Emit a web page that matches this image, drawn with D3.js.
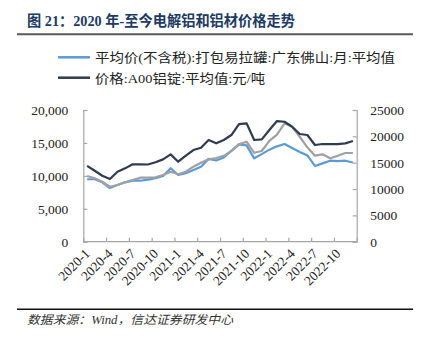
<!DOCTYPE html>
<html><head><meta charset="utf-8">
<script src="https://cdn.jsdelivr.net/npm/d3@7"></script>
<style>
html,body{margin:0;padding:0;background:#fff;}
svg{display:block;}
</style></head>
<body>
<svg id="c" width="423" height="339"></svg>
<script>
const months = ["2020-1","2020-2","2020-3","2020-4","2020-5","2020-6","2020-7","2020-8","2020-9","2020-10","2020-11","2020-12",
"2021-1","2021-2","2021-3","2021-4","2021-5","2021-6","2021-7","2021-8","2021-9","2021-10","2021-11","2021-12",
"2022-1","2022-2","2022-3","2022-4","2022-5","2022-6","2022-7","2022-8","2022-9","2022-10","2022-11","2022-12"];
const tickLabels = ["2020-1","2020-4","2020-7","2020-10","2021-1","2021-4","2021-7","2021-10","2022-1","2022-4","2022-7","2022-10"];
// left axis: 平均价(不含税):打包易拉罐:广东佛山
const canPrice = [9480,9480,9020,8150,8610,9020,9260,9260,9420,9630,9980,11150,
10130,10390,10890,11390,12580,12330,12800,13800,14790,14630,12660,13300,
13980,14480,14840,14230,13620,13110,11500,11900,12300,12250,12300,12030];
// left axis: unlabeled grey series
const greySeries = [9980,9630,9110,8350,8610,9020,9370,9720,9720,9780,10130,10630,
10240,10630,11390,12000,12510,12710,13040,13800,14790,15190,13500,13770,
15300,16250,17980,17460,15940,14340,13060,13270,12660,13060,13470,13470];
// right axis: 价格:A00铝锭:平均值
const a00Price = [14400,13470,12520,11900,13280,13920,14690,14690,14650,15070,15630,16580,
15180,16320,17400,17840,19300,18670,19300,20250,22330,22470,19300,19430,
21200,22900,22770,21820,20440,20250,18350,18540,18540,18540,18670,19110];
const leftTicks = [0,5000,10000,15000,20000];
const rightTicks = [0,5000,10000,15000,20000,25000];
const legendLabels = ["平均价(不含税):打包易拉罐:广东佛山:月:平均值","价格:A00铝锭:平均值:元/吨"];
const titleText = "图 21：2020 年-至今电解铝和铝材价格走势";
const sourceText = "数据来源：Wind，信达证券研发中心";

const svg = d3.select("#c");
const L = 83.3, R = 356.7, T = 110, B = 241.7;
const FONT = "'Liberation Serif','Noto Sans CJK SC',serif";
const blue = "#5b9bd5", dark = "#2f3b50", grey = "#a0a0a0", axisCol = "#a6a6a6";

svg.append("rect").attr("width",423).attr("height",339).attr("fill","#fff");

// title
svg.append("text").attr("x",27).attr("y",26).attr("fill","#203a64")
  .attr("font-family",FONT).attr("font-size",14.5).attr("font-weight","bold")
  .attr("textLength",268).attr("lengthAdjust","spacingAndGlyphs").text(titleText);
svg.append("line").attr("x1",17).attr("x2",413).attr("y1",34.3).attr("y2",34.3)
  .attr("stroke","#595959").attr("stroke-width",2);

// legend
const legColors = [blue, dark];
const legY = [57.3, 77.7];
const legW = [300, 170];
legendLabels.forEach((t,i)=>{
  svg.append("line").attr("x1",58).attr("x2",90).attr("y1",legY[i]).attr("y2",legY[i])
    .attr("stroke",legColors[i]).attr("stroke-width",2.5);
  svg.append("text").attr("x",95).attr("y",legY[i]+4.8).attr("fill","#222")
    .attr("font-family",FONT).attr("font-size",13)
    .attr("textLength",legW[i]).attr("lengthAdjust","spacingAndGlyphs").text(t);
});

// scales
const x = d3.scaleBand().domain(months).range([L,R]).padding(0);
const xIdx = d3.scaleLinear().domain([0,months.length]).range([L,R]);
const yL = d3.scaleLinear().domain([0,20000]).range([B,T]);
const yR = d3.scaleLinear().domain([0,25000]).range([B,T]);
const cx = m => x(m) + x.bandwidth()/2;

// axes
const gL = svg.append("g").attr("transform",`translate(${L},0)`)
  .call(d3.axisLeft(yL).tickValues(leftTicks).tickSize(-4).tickPadding(15).tickFormat(d3.format(",")));
const gR = svg.append("g").attr("transform",`translate(${R},0)`)
  .call(d3.axisRight(yR).tickValues(rightTicks).tickSize(-4).tickPadding(13.5).tickFormat(d3.format("d")));
const gB = svg.append("g").attr("transform",`translate(0,${B})`)
  .call(d3.axisBottom(xIdx).tickValues(d3.range(0,months.length+1,3)).tickSize(-4).tickFormat(""));
[gL,gR,gB].forEach(g=>{
  g.select(".domain").attr("stroke",axisCol).attr("stroke-width",1.2);
  g.selectAll(".tick line").attr("stroke",axisCol).attr("stroke-width",1.2);
  g.selectAll("text").attr("font-family",FONT).attr("font-size",13.5).attr("fill","#222");
});
gB.select(".domain").attr("d",`M${L},0H${R}`);

// x labels
svg.append("g").selectAll("text").data(tickLabels).join("text")
  .attr("transform",d=>`translate(${cx(d)-3},${B+6}) rotate(-45)`)
  .attr("text-anchor","end").attr("dy","0.7em")
  .attr("font-family",FONT).attr("font-size",13.5).attr("fill","#222")
  .text(d=>d);

// lines
const lineL = d3.line().x((d,i)=>cx(months[i])).y(d=>yL(d));
const lineR = d3.line().x((d,i)=>cx(months[i])).y(d=>yR(d));
svg.append("path").datum(canPrice).attr("d",lineL).attr("fill","none").attr("stroke",blue).attr("stroke-width",2.2).attr("stroke-linejoin","round");
svg.append("path").datum(greySeries).attr("d",lineL).attr("fill","none").attr("stroke",grey).attr("stroke-width",2.2).attr("stroke-linejoin","round");
svg.append("path").datum(a00Price).attr("d",lineR).attr("fill","none").attr("stroke",dark).attr("stroke-width",2.2).attr("stroke-linejoin","round");

// footer
svg.append("line").attr("x1",17).attr("x2",413).attr("y1",309.3).attr("y2",309.3)
  .attr("stroke","#111").attr("stroke-width",1.5);
svg.append("text").attr("x",27).attr("y",324).attr("fill","#333")
  .attr("font-family",FONT).attr("font-size",12).attr("font-style","italic")
  .attr("textLength",206).attr("lengthAdjust","spacingAndGlyphs").text(sourceText);
</script>
</body></html>
